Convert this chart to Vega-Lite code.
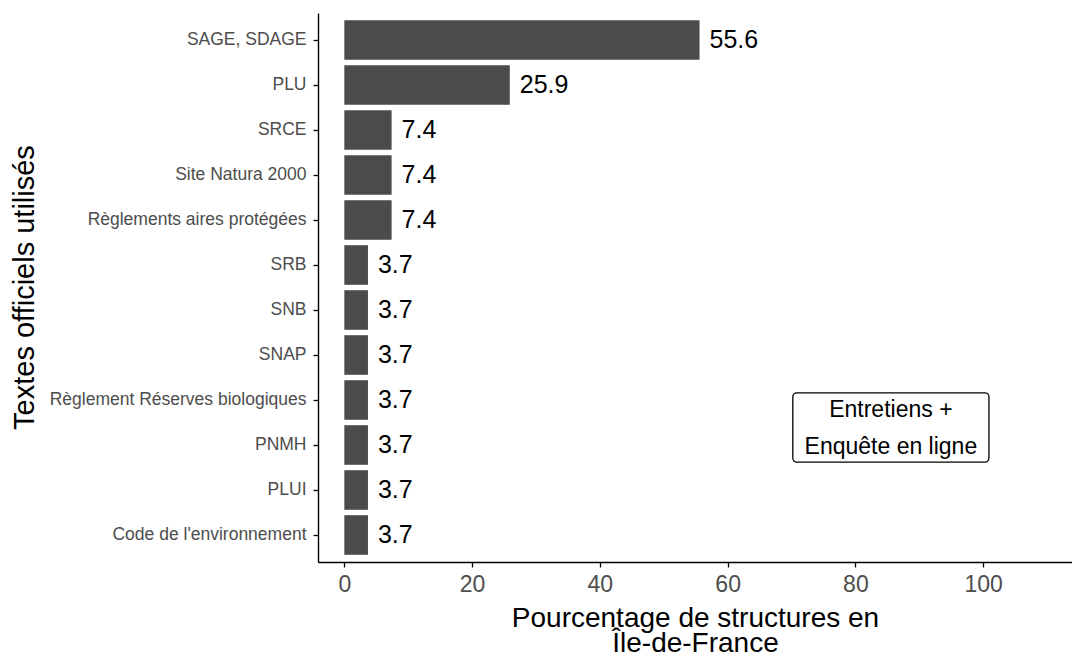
{
  "$schema": "https://vega.github.io/schema/vega-lite/v6.json",
  "autosize": {"type": "none"},
  "padding": {"left": 318, "top": 13, "right": 0, "bottom": 97},
  "width": 754,
  "height": 549,
  "background": "white",
  "config": {
    "view": {"stroke": null},
    "font": "Liberation Sans",
    "axis": {"grid": false, "domainColor": "black", "domainWidth": 1.4, "tickColor": "black", "tickWidth": 1.3, "tickSize": 5, "labelColor": "#4D4D4D", "titleColor": "black", "titleFontWeight": "normal", "labelFont": "Liberation Sans", "titleFont": "Liberation Sans", "labelLimit": 500}
  },
  "resolve": {"scale": {"y": "independent"}, "axis": {"y": "independent"}},
  "layer": [
    {
      "data": {"values": [
        {"texte": "SAGE, SDAGE", "pct": 55.6},
        {"texte": "PLU", "pct": 25.9},
        {"texte": "SRCE", "pct": 7.4},
        {"texte": "Site Natura 2000", "pct": 7.4},
        {"texte": "Règlements aires protégées", "pct": 7.4},
        {"texte": "SRB", "pct": 3.7},
        {"texte": "SNB", "pct": 3.7},
        {"texte": "SNAP", "pct": 3.7},
        {"texte": "Règlement Réserves biologiques", "pct": 3.7},
        {"texte": "PNMH", "pct": 3.7},
        {"texte": "PLUI", "pct": 3.7},
        {"texte": "Code de l'environnement", "pct": 3.7}
      ]},
      "encoding": {
        "y": {"field": "texte", "type": "nominal", "sort": null,
              "scale": {"paddingInner": 0.12, "paddingOuter": 0.16},
              "axis": {"title": "Textes officiels utilisés", "titleFontSize": 29, "labelFontSize": 17.5, "labelPadding": 7, "titleAngle": -90, "titleX": -279, "titleY": 274, "titleBaseline": "bottom", "titleAlign": "center"}},
        "x": {"field": "pct", "type": "quantitative",
              "scale": {"domain": [-4.12, 113.9], "nice": false, "zero": false},
              "axis": {"values": [0, 20, 40, 60, 80, 100], "title": ["Pourcentage de structures en", "Île-de-France"], "titleFontSize": 28, "titleLineHeight": 25, "labelFontSize": 23, "labelPadding": 6, "titleY": 42, "titleBaseline": "top"}}
      },
      "layer": [
        {"mark": {"type": "bar", "color": "#4B4B4B"}},
        {"mark": {"type": "text", "align": "left", "baseline": "middle", "dx": 10, "fontSize": 25, "color": "black"},
         "encoding": {"text": {"field": "pct", "type": "quantitative", "format": ".1f"}}}
      ]
    },
    {
      "data": {"values": [{"x1": 70.2, "x2": 100.9, "xm": 85.55, "t1": 8.44, "t2": 9.98, "tm": 8.82, "label": "Entretiens +\nEnquête en ligne"}]},
      "layer": [
        {"mark": {"type": "rect", "fill": "white", "stroke": "black", "strokeWidth": 1.3, "cornerRadius": 4},
         "encoding": {
           "x": {"field": "x1", "type": "quantitative", "scale": {"domain": [-4.12, 113.9], "nice": false, "zero": false}},
           "x2": {"field": "x2"},
           "y": {"field": "t1", "type": "quantitative", "scale": {"domain": [0, 12.2], "reverse": true, "nice": false, "zero": false}, "axis": null},
           "y2": {"field": "t2"}
         }},
        {"mark": {"type": "text", "align": "center", "baseline": "middle", "fontSize": 23, "lineBreak": "\n", "lineHeight": 37, "color": "black"},
         "encoding": {
           "x": {"field": "xm", "type": "quantitative", "scale": {"domain": [-4.12, 113.9], "nice": false, "zero": false}},
           "text": {"field": "label"},
           "y": {"field": "tm", "type": "quantitative", "scale": {"domain": [0, 12.2], "reverse": true, "nice": false, "zero": false}, "axis": null}
         }}
      ]
    }
  ]
}
